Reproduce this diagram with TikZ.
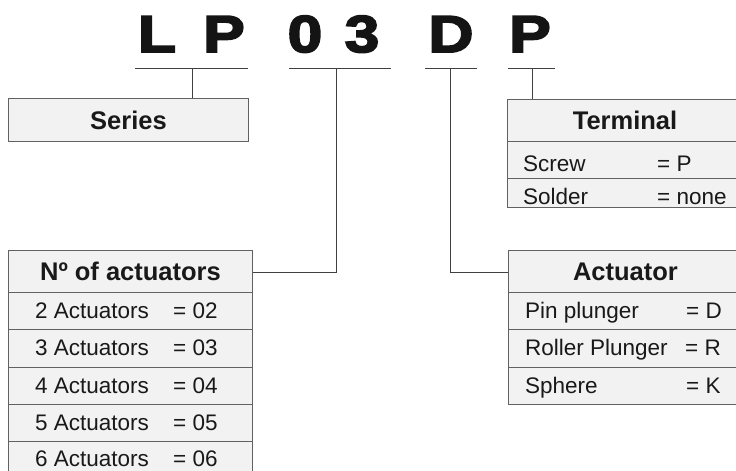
\documentclass[tikz,border=0pt]{standalone}
\usepackage{fontspec}
\setmainfont{Liberation Sans}
\newfontfamily\bigfont[FakeBold=3.5,FakeStretch=1.2]{Liberation Sans Bold}
\begin{document}
\begin{tikzpicture}[x=1pt,y=-1pt,
  lnk/.style={draw=black!75,line width=0.9pt},
  cell/.style={draw=black!62,fill=black!5,line width=1pt,inner sep=0pt,anchor=north west},
  hdr/.style={font=\fontsize{25.5}{28}\selectfont\bfseries,text=black!90},
  txt/.style={font=\fontsize{22.5}{25}\selectfont,text=black!90,anchor=base west,inner sep=0pt},
  big/.style={font=\bigfont\fontsize{52}{56}\selectfont,text=black!92,anchor=base,inner sep=0pt}]
\useasboundingbox (0,0) rectangle (736,471);
% code letters
\node[big] (l1) at (157,52) {L};
\node[big] (l2) at (224,52) {P};
\node[big] (l3) at (305,52) {0};
\node[big] (l4) at (362,52) {3};
\node[big] (l5) at (451,52) {D};
\node[big] (l6) at (530,52) {P};
% underlines
\coordinate (u1a) at (135,68); \coordinate (u1b) at (248,68); \coordinate (u1) at (192,68);
\coordinate (u2a) at (289,68); \coordinate (u2b) at (391,68); \coordinate (u2) at (336,68);
\coordinate (u3a) at (425,68); \coordinate (u3b) at (477,68); \coordinate (u3) at (450,68);
\coordinate (u4a) at (508,68); \coordinate (u4b) at (555,68); \coordinate (u4) at (532,68);
\draw[lnk] (u1a) -- (u1b) (u2a) -- (u2b) (u3a) -- (u3b) (u4a) -- (u4b);
% Series
\node[cell,minimum width=240pt,minimum height=43pt] (series) at (8,98) {};
\node[hdr] (serT) at (series.center) {Series};
% Terminal
\node[cell,minimum width=233pt,minimum height=42pt] (term) at (507,99) {};
\node[hdr] (termT) at ([xshift=1pt]term.center) {Terminal};
\node[cell,minimum width=233pt,minimum height=37pt] (termR1) at (507,141) {};
\node[cell,minimum width=233pt,minimum height=29pt] (termR2) at (507,178) {};
\node[txt] (t1a) at (523,171) {Screw};
\node[txt] (t1b) at (657,171) {= P};
\node[txt] (t2a) at (523,204.5) {Solder};
\node[txt] (t2b) at (657,204.5) {= none};
% No of actuators
\node[cell,minimum width=244pt,minimum height=42pt] (nact) at (8,250) {};
\node[hdr] (nactT) at (nact.center) {Nº of actuators};
\foreach \i/\y/\h/\n/\b in {1/292/37/2/318,2/329/38/3/355,3/367/37/4/393,4/404/37/5/430,5/441/38/6/466}{
  \node[cell,minimum width=244pt,minimum height=\h pt] (nR\i) at (8,\y) {};
  \node[txt] (nA\i) at (35,\b) {\n\ Actuators};
  \node[txt] (nB\i) at (173,\b) {= 0\n};
}
% Actuator
\node[cell,minimum width=232pt,minimum height=42pt] (act) at (508,250) {};
\node[hdr] (actT) at ([xshift=1pt]act.center) {Actuator};
\node[cell,minimum width=232pt,minimum height=37pt] (aR1) at (508,292) {};
\node[cell,minimum width=232pt,minimum height=38pt] (aR2) at (508,329) {};
\node[cell,minimum width=232pt,minimum height=37pt] (aR3) at (508,367) {};
\node[txt] (a1a) at (525,318) {Pin plunger};
\node[txt] (a1b) at (686,318) {= D};
\node[txt] (a2a) at (525,355) {Roller Plunger};
\node[txt] (a2b) at (685,355) {= R};
\node[txt] (a3a) at (525,393) {Sphere};
\node[txt] (a3b) at (686,393) {= K};
% connectors
\draw[lnk] (u1) -- (u1 |- series.north);
\draw[lnk] (u4) -- (u4 |- term.north);
\draw[lnk] (nact.east |- 0,272) -| (u2);
\draw[lnk] (u3) |- (act.west |- 0,272);
\end{tikzpicture}
\end{document}
